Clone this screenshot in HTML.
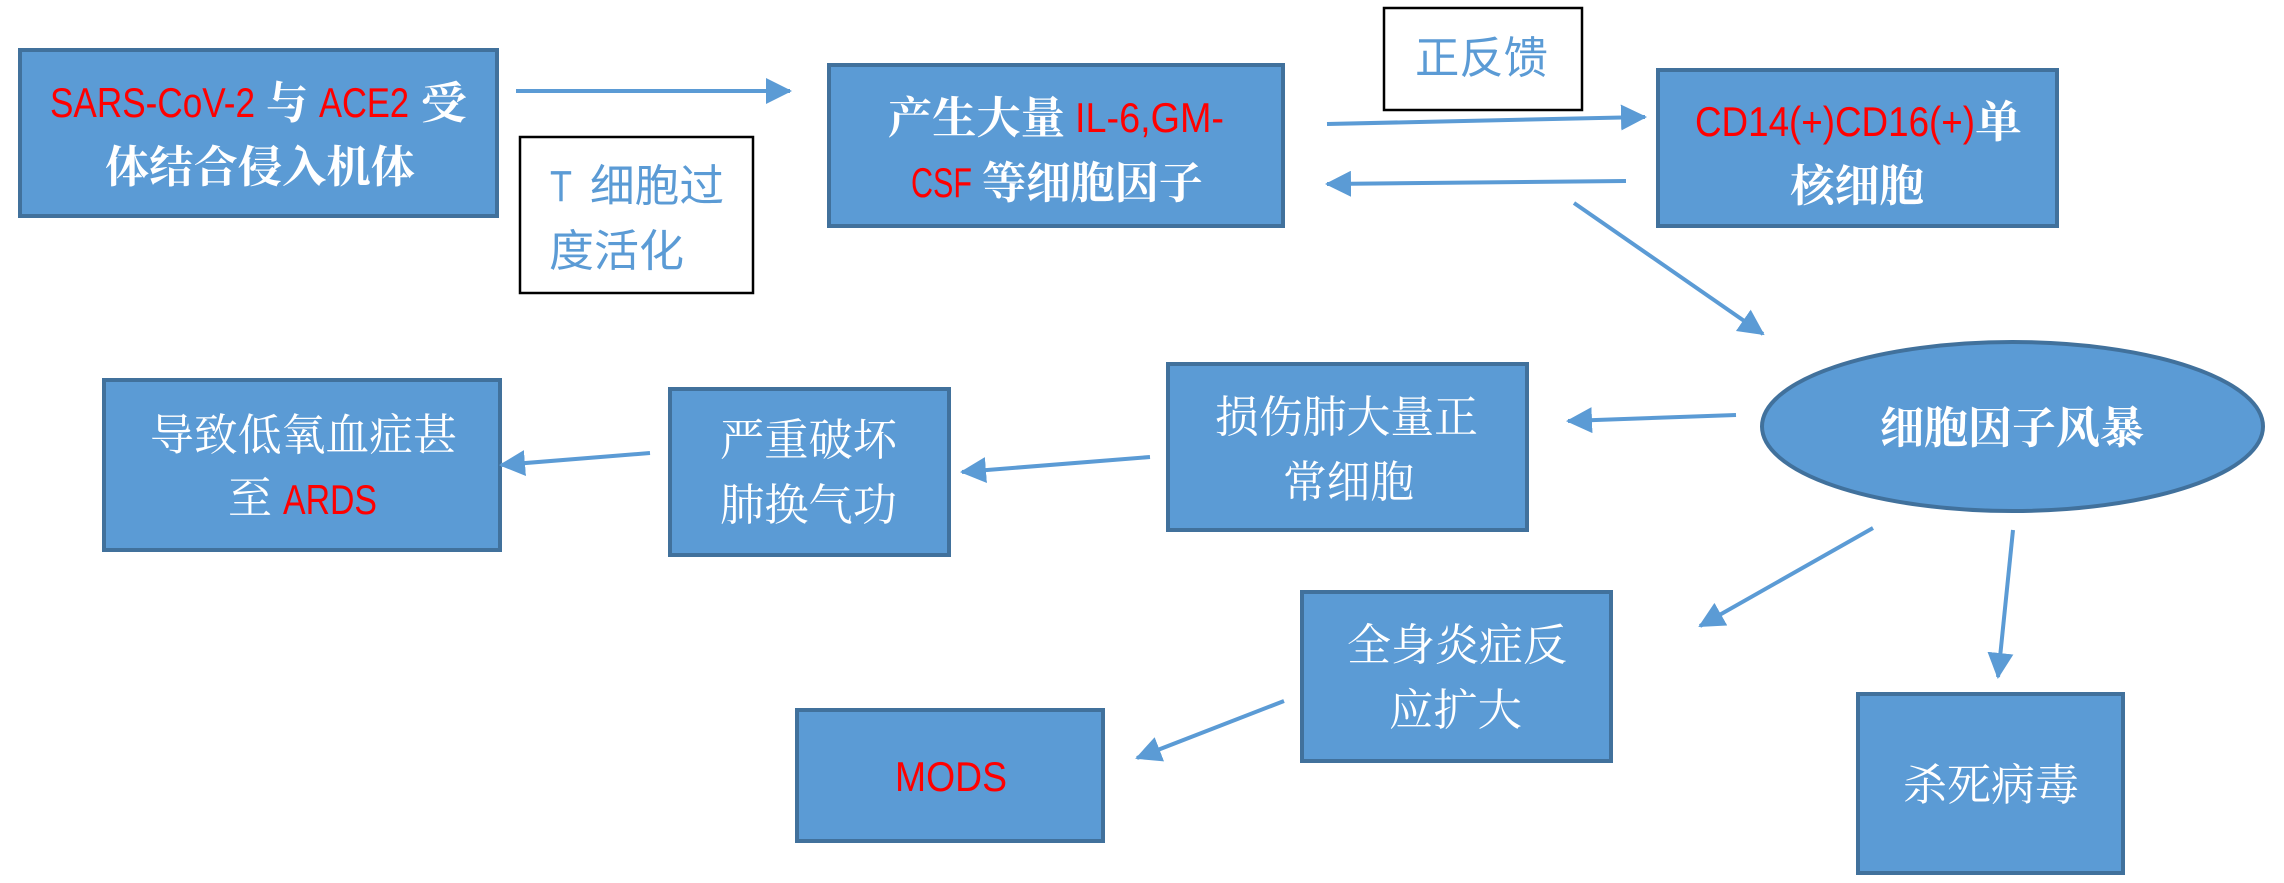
<!DOCTYPE html>
<html><head><meta charset="utf-8"><style>
html,body{margin:0;padding:0;background:#fff;}
svg{display:block;}
.cjkb{font-family:"Noto Serif CJK SC","Noto Sans CJK SC",serif;font-weight:bold;font-size:44px;fill:#fff;}
.cjk{font-family:"Noto Serif CJK SC","Noto Sans CJK SC",serif;font-size:44px;fill:#fff;}
.cjkblue{font-family:"Liberation Sans","Noto Sans CJK SC",sans-serif;font-size:44px;fill:#5B9BD5;}
.lat{font-family:"Liberation Sans",sans-serif;font-size:42px;fill:#FF0000;}
.box{fill:#5B9BD5;stroke:#41719C;stroke-width:4;}
.wbox{fill:#fff;stroke:#000;stroke-width:2.5;}
.ln{stroke:#5B9BD5;stroke-width:4;fill:none;marker-end:url(#ah);}
</style></head><body>
<svg width="2284" height="883" viewBox="0 0 2284 883" xmlns="http://www.w3.org/2000/svg">
<defs>
<marker id="ah" markerUnits="userSpaceOnUse" viewBox="0 0 26 26" markerWidth="26" markerHeight="26" refX="24" refY="13" orient="auto">
<path d="M0,0 L26,13 L0,26 z" fill="#5B9BD5"/>
</marker>
</defs>

<!-- Boxes -->
<rect class="box" x="20" y="50" width="477" height="166"/>
<rect class="box" x="829" y="65" width="454" height="161"/>
<rect class="box" x="1658" y="70" width="399" height="156"/>
<rect class="wbox" x="520" y="137" width="233" height="156"/>
<rect class="wbox" x="1384" y="8" width="198" height="102"/>
<rect class="box" x="1168" y="364" width="359" height="166"/>
<rect class="box" x="670" y="389" width="279" height="166"/>
<rect class="box" x="104" y="380" width="396" height="170"/>
<rect class="box" x="1302" y="592" width="309" height="169"/>
<rect class="box" x="797" y="710" width="306" height="131"/>
<rect class="box" x="1858" y="694" width="265" height="179"/>
<ellipse class="box" cx="2012.5" cy="426.5" rx="250.5" ry="84.5"/>

<!-- Arrows -->
<line class="ln" x1="516" y1="91" x2="790" y2="91"/>
<line class="ln" x1="1327" y1="124" x2="1645" y2="117"/>
<line class="ln" x1="1626" y1="181" x2="1327" y2="184"/>
<line class="ln" x1="1574" y1="203" x2="1763" y2="334"/>
<line class="ln" x1="1736" y1="415" x2="1568" y2="421"/>
<line class="ln" x1="1150" y1="457" x2="962" y2="472"/>
<line class="ln" x1="650" y1="453" x2="501" y2="465"/>
<line class="ln" x1="1873" y1="528" x2="1700" y2="626"/>
<line class="ln" x1="2013" y1="530" x2="1998" y2="677"/>
<line class="ln" x1="1284" y1="701" x2="1137" y2="758"/>

<!-- Box A text -->
<text class="lat" x="50" y="117" textLength="205" lengthAdjust="spacingAndGlyphs">SARS-CoV-2</text>
<text class="cjkb" x="266" y="118" textLength="42" lengthAdjust="spacingAndGlyphs">与</text>
<text class="lat" x="319" y="117" textLength="90" lengthAdjust="spacingAndGlyphs">ACE2</text>
<text class="cjkb" x="421" y="118" textLength="46" lengthAdjust="spacingAndGlyphs">受</text>
<text class="cjkb" x="105" y="182" textLength="310" lengthAdjust="spacingAndGlyphs">体结合侵入机体</text>

<!-- Box B text -->
<text class="cjkb" x="888" y="133" textLength="177" lengthAdjust="spacingAndGlyphs">产生大量</text>
<text class="lat" x="1075" y="132" textLength="149" lengthAdjust="spacingAndGlyphs">IL-6,GM-</text>
<text class="lat" x="911" y="197" textLength="61" lengthAdjust="spacingAndGlyphs">CSF</text>
<text class="cjkb" x="982" y="198" textLength="221" lengthAdjust="spacingAndGlyphs">等细胞因子</text>

<!-- CD box -->
<text class="lat" x="1695" y="136" textLength="280" lengthAdjust="spacingAndGlyphs">CD14(+)CD16(+)</text>
<text class="cjkb" x="1975" y="137" textLength="47" lengthAdjust="spacingAndGlyphs">单</text>
<text class="cjkb" x="1790" y="201" textLength="134" lengthAdjust="spacingAndGlyphs">核细胞</text>

<!-- T box -->
<text class="cjkblue" x="550" y="201" textLength="22" lengthAdjust="spacingAndGlyphs">T</text>
<text class="cjkblue" x="590" y="201" textLength="134" lengthAdjust="spacingAndGlyphs">细胞过</text>
<text class="cjkblue" x="549" y="266" textLength="135" lengthAdjust="spacingAndGlyphs">度活化</text>

<!-- 正反馈 -->
<text class="cjkblue" x="1415" y="73" textLength="133" lengthAdjust="spacingAndGlyphs">正反馈</text>

<!-- Storm -->
<text class="cjkb" x="1880" y="443" textLength="264" lengthAdjust="spacingAndGlyphs">细胞因子风暴</text>

<!-- 损伤 -->
<text class="cjk" x="1215" y="432" textLength="263" lengthAdjust="spacingAndGlyphs">损伤肺大量正</text>
<text class="cjk" x="1283" y="497" textLength="131" lengthAdjust="spacingAndGlyphs">常细胞</text>

<!-- 严重 -->
<text class="cjk" x="720" y="455" textLength="177" lengthAdjust="spacingAndGlyphs">严重破坏</text>
<text class="cjk" x="720" y="520" textLength="177" lengthAdjust="spacingAndGlyphs">肺换气功</text>

<!-- 导致 -->
<text class="cjk" x="150" y="450" textLength="307" lengthAdjust="spacingAndGlyphs">导致低氧血症甚</text>
<text class="cjk" x="228" y="513" textLength="44" lengthAdjust="spacingAndGlyphs">至</text>
<text class="lat" x="283" y="514" textLength="94" lengthAdjust="spacingAndGlyphs">ARDS</text>

<!-- 全身 -->
<text class="cjk" x="1347" y="660" textLength="220" lengthAdjust="spacingAndGlyphs">全身炎症反</text>
<text class="cjk" x="1389" y="725" textLength="133" lengthAdjust="spacingAndGlyphs">应扩大</text>

<!-- 杀死 -->
<text class="cjk" x="1903" y="800" textLength="176" lengthAdjust="spacingAndGlyphs">杀死病毒</text>

<!-- MODS -->
<text class="lat" x="895" y="791" textLength="112" lengthAdjust="spacingAndGlyphs">MODS</text>
</svg>
</body></html>
